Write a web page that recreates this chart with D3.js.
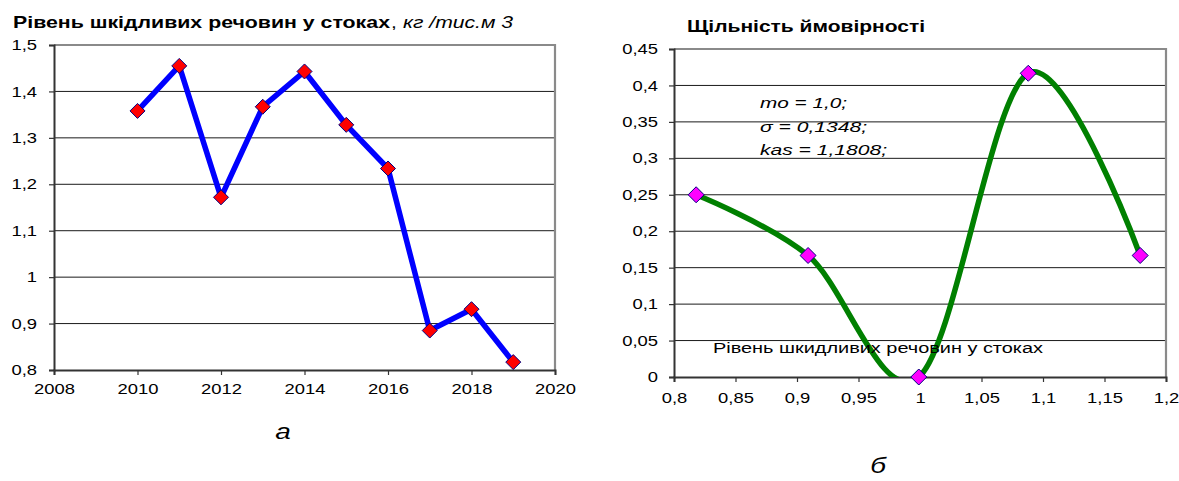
<!DOCTYPE html>
<html>
<head>
<meta charset="utf-8">
<script src="https://cdn.jsdelivr.net/npm/d3@7"></script>
<style>
  html, body { margin: 0; padding: 0; background: #fff; }
  svg { display: block; font-family: "Liberation Sans", Arial, sans-serif; }
</style>
</head>
<body>
<svg id="chart" width="1179" height="481"></svg>
<script>
// Annual level of pollutants in wastewater, kg per thousand m3
const years = [2010, 2011, 2012, 2013, 2014, 2015, 2016, 2017, 2018, 2019];
const levels = [1.358, 1.455, 1.172, 1.367, 1.443, 1.328, 1.234, 0.885, 0.931, 0.817];
const yearTicks = [2008, 2010, 2012, 2014, 2016, 2018, 2020];
const levelTicks = [0.8, 0.9, 1.0, 1.1, 1.2, 1.3, 1.4, 1.5];

// Empirical probability density of the pollutant level
const densityX = [0.818, 0.909, 0.999, 1.088, 1.179];
const densityY = [0.25, 0.1667, 0, 0.4167, 0.1667];
const densityXTicks = [0.8, 0.85, 0.9, 0.95, 1.0, 1.05, 1.1, 1.15, 1.2];
const densityYTicks = [0, 0.05, 0.1, 0.15, 0.2, 0.25, 0.3, 0.35, 0.4, 0.45];

// Distribution parameters shown on the density chart
const statLines = ["mo = 1,0;", "σ = 0,1348;", "kas = 1,1808;"];
const statWidths = [87, 107, 127];

const svg = d3.select("#chart");
const STRETCH = 1.27;      // glyphs are drawn wide
const fmt = d => String(+d.toFixed(2)).replace(".", ",");

function diamondPath(r) {
  return `M0,${-r}L${r},0L0,${r}L${-r},0Z`;
}

function panel(opts) {
  const { x, y, xTicks, yTicks, labelGapY, labelGapX } = opts;
  const g = svg.append("g");
  const [x0, x1] = x.range();
  const [y0, y1] = y.range(); // y0 bottom, y1 top

  // horizontal gridlines
  g.append("g").selectAll("line").data(yTicks.slice(1)).join("line")
    .attr("x1", x0).attr("x2", x1)
    .attr("y1", d => y(d)).attr("y2", d => y(d))
    .attr("stroke", "#1a1a1a").attr("stroke-width", 1);

  // plot frame: top and right edges
  g.append("path")
    .attr("d", `M${x0},${y1}H${x1}V${y0}`)
    .attr("fill", "none").attr("stroke", "#8a8a8a").attr("stroke-width", 2.2);

  const ya = g.append("g").attr("transform", `translate(${x0},0)`)
    .call(d3.axisLeft(y).tickValues(yTicks).tickFormat(fmt).tickSize(5).tickPadding(labelGapY));
  const xa = g.append("g").attr("transform", `translate(0,${y0})`)
    .call(d3.axisBottom(x).tickValues(xTicks).tickFormat(fmt).tickSize(5).tickPadding(labelGapX));

  [ya, xa].forEach(a => {
    a.select(".domain").attr("stroke", "#333").attr("stroke-width", 2);
    a.selectAll(".tick line").attr("stroke", "#333").attr("stroke-width", 1.2);
    a.selectAll(".tick text")
      .attr("fill", "#000")
      .style("font-family", "'Liberation Sans', Arial, sans-serif")
      .style("font-size", "14.5px")
      .attr("transform", `scale(${STRETCH},1)`);
  });
  ya.selectAll(".tick text").attr("x", -(5 + labelGapY) / STRETCH);
  return g;
}

// ---------- left panel: level by year ----------
const xL = d3.scaleLinear().domain([2008, 2020]).range([54, 555]);
const yL = d3.scaleLinear().domain([0.8, 1.5]).range([370, 45]);
const gL = panel({ x: xL, y: yL, xTicks: yearTicks, yTicks: levelTicks, labelGapY: 12, labelGapX: 9 });

const levelPts = years.map((yr, i) => [xL(yr), yL(levels[i])]);
gL.append("path")
  .attr("d", d3.line()(levelPts))
  .attr("fill", "none").attr("stroke", "#0000ff").attr("stroke-width", 5.5)
  .attr("stroke-linejoin", "miter");
gL.append("g").selectAll("path").data(levelPts).join("path")
  .attr("transform", d => `translate(${d[0]},${d[1]})`)
  .attr("d", diamondPath(7.5))
  .attr("fill", "#ff0000").attr("stroke", "#000080").attr("stroke-width", 1);

// ---------- right panel: probability density ----------
const xR = d3.scaleLinear().domain([0.8, 1.2]).range([674, 1166]);
const yR = d3.scaleLinear().domain([0, 0.45]).range([377, 49]);
const gR = panel({ x: xR, y: yR, xTicks: densityXTicks, yTicks: densityYTicks, labelGapY: 11, labelGapX: 11 });

svg.append("defs").append("clipPath").attr("id", "plotR")
  .append("rect").attr("x", 674).attr("y", 49).attr("width", 492).attr("height", 328);

const densPts = densityX.map((v, i) => [xR(v), yR(densityY[i])]);
gR.append("path")
  .attr("clip-path", "url(#plotR)")
  .attr("d", d3.line().curve(d3.curveCardinal.tension(0))(densPts))
  .attr("fill", "none").attr("stroke", "#008000").attr("stroke-width", 5.5);

// text annotations inside the density plot
const ann = gR.append("g").style("font-style", "italic").style("font-size", "15.5px");
statLines.forEach((t, i) => {
  ann.append("text")
    .attr("x", 760).attr("y", 108 + i * 23.5)
    .attr("textLength", statWidths[i]).attr("lengthAdjust", "spacingAndGlyphs")
    .text(t);
});
gR.append("text")
  .attr("x", 713).attr("y", 353)
  .attr("textLength", 330).attr("lengthAdjust", "spacingAndGlyphs")
  .style("font-size", "15.5px")
  .text("Рівень шкидливих речовин у стоках");

gR.append("g").selectAll("path").data(densPts).join("path")
  .attr("transform", d => `translate(${d[0]},${d[1]})`)
  .attr("d", diamondPath(8))
  .attr("fill", "#ff00ff").attr("stroke", "#000080").attr("stroke-width", 1);

// ---------- titles and panel captions ----------
svg.append("text")
  .attr("x", 13).attr("y", 28)
  .attr("textLength", 377).attr("lengthAdjust", "spacingAndGlyphs")
  .style("font-weight", "bold").style("font-size", "16.5px")
  .text("Рівень шкідливих речовин у стоках");
svg.append("text")
  .attr("transform", `translate(391,28) scale(${STRETCH},1)`)
  .style("font-size", "16.5px").text(",");
svg.append("text")
  .attr("x", 403).attr("y", 28)
  .attr("textLength", 110).attr("lengthAdjust", "spacingAndGlyphs")
  .style("font-style", "italic").style("font-size", "16px")
  .text("кг /тис.м 3");

svg.append("text")
  .attr("x", 687).attr("y", 32)
  .attr("textLength", 238).attr("lengthAdjust", "spacingAndGlyphs")
  .style("font-weight", "bold").style("font-size", "16.5px")
  .text("Щільність ймовірності");

svg.append("text")
  .attr("transform", `translate(283,439) scale(${STRETCH},1)`)
  .attr("text-anchor", "middle")
  .style("font-style", "italic").style("font-size", "22px")
  .text("а");
svg.append("text")
  .attr("transform", `translate(878,473) scale(${STRETCH},1)`)
  .attr("text-anchor", "middle")
  .style("font-style", "italic").style("font-size", "22px")
  .text("б");
</script>
</body>
</html>
